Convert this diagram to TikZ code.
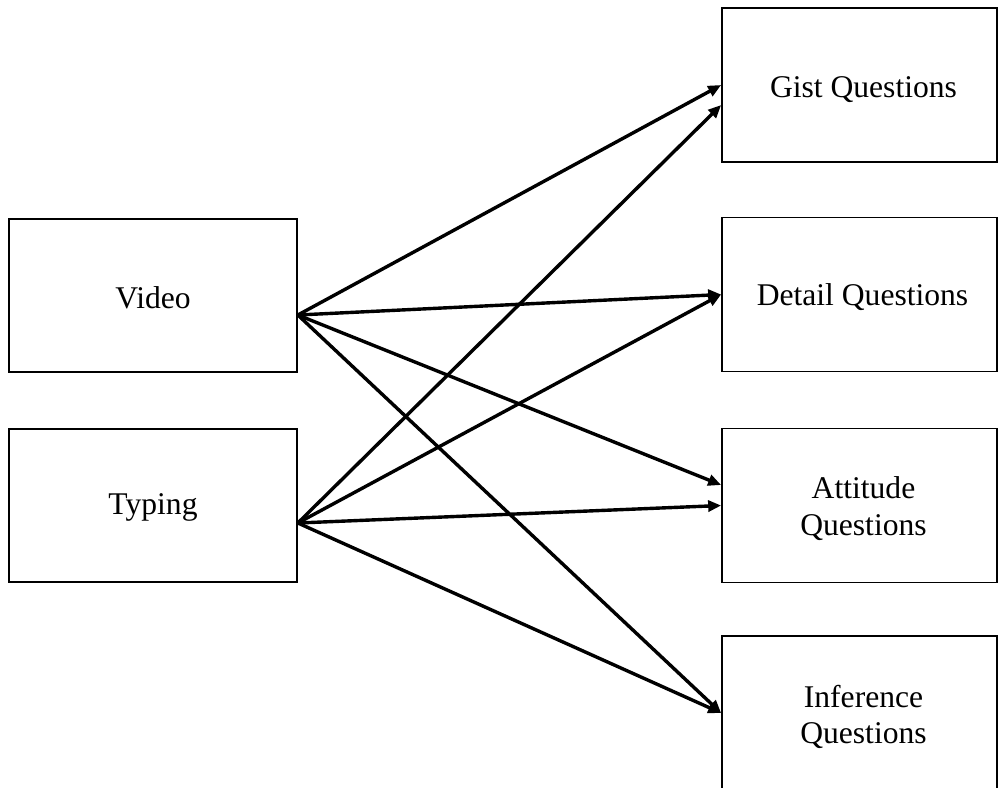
\documentclass[tikz,border=0pt]{standalone}
\usepackage{fontspec}
\setmainfont{Liberation Serif}
\usetikzlibrary{arrows.meta,calc}
\begin{document}
\begin{tikzpicture}[x=1pt,y=-1pt,
  box/.style={draw, line width=1.7pt, inner sep=0pt},
  srcbox/.style={box, minimum width=288pt, minimum height=153pt},
  qbox/.style={box, minimum width=275pt, minimum height=154pt},
  caption/.style={inner sep=0pt, align=center,
    font=\fontsize{31.6}{36.5}\selectfont},
  link/.style={line width=3.4pt, -{Triangle[length=13pt,width=11pt]}}]
  \useasboundingbox (0,0) rectangle (998,787);
  \clip (0,0) rectangle (998,787);

  % source boxes
  \node[srcbox] (video)  at (153,295.5) {};
  \node[srcbox] (typing) at (153,505.5) {};
  \node[caption] (videoL)  at ($(video.center)+(0,2)$)  {Video};
  \node[caption] (typingL) at ($(typing.center)+(0,2)$) {Typing};

  % question boxes
  \node[qbox] (gist)   at (859.5,85)    {};
  \node[qbox] (detail) at (859.5,294.5) {};
  \node[qbox] (att)    at (859.5,505.5) {};
  \node[qbox] (inf)    at (859.5,713)   {};
  \node[caption] (gistL)   at ($(gist.center)+(4,5)$)   {Gist Questions};
  \node[caption] (detailL) at ($(detail.center)+(3,3)$) {Detail Questions};
  \node[caption] (attL)    at ($(att.center)+(4,3)$)    {Attitude\\Questions};
  \node[caption] (infL)    at ($(inf.center)+(4,4)$)    {Inference\\Questions};

  % connector end points
  \coordinate (vo) at ($(video.east)+(0,19.5)$);
  \coordinate (to) at ($(typing.east)+(0,17.5)$);
  \coordinate (gistT) at ($(gist.west)+(0,20)$);
  \coordinate (attV) at ($(att.west)+(0,-20.5)$);

  \draw[link] (vo) -- (gist.west);
  \draw[link] (vo) -- (detail.west);
  \draw[link] (vo) -- (attV);
  \draw[link] (vo) -- (inf.west);

  \draw[link] (to) -- (gistT);
  \draw[link] (to) -- (detail.west);
  \draw[link] (to) -- (att.west);
  \draw[link] (to) -- (inf.west);
\end{tikzpicture}
\end{document}
